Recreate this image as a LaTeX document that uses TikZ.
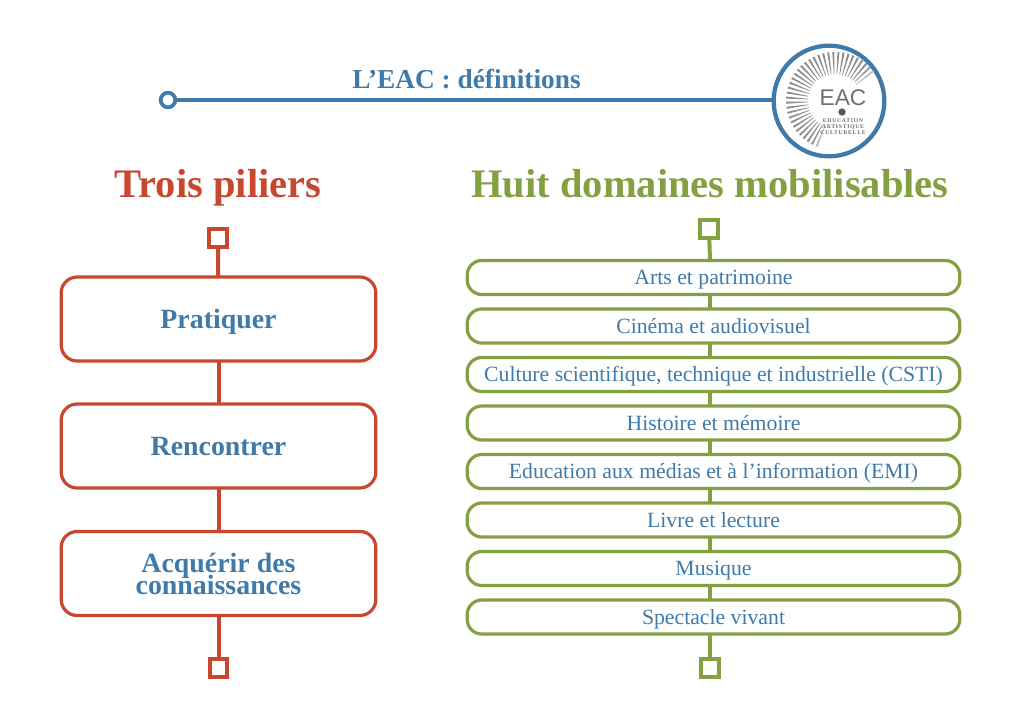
\documentclass[tikz,border=0pt]{standalone}
\usepackage{fontspec}
\usetikzlibrary{calc}
\setmainfont{Liberation Serif}
\newfontfamily\logofont{Liberation Sans}
\newfontfamily\logoserif[LetterSpace=12]{Liberation Serif}
\definecolor{eacblue}{HTML}{3F7AA8}
\definecolor{eacred}{HTML}{C8482F}
\definecolor{eacgreen}{HTML}{84A043}
\definecolor{eacgrey}{HTML}{6E6E6E}
\lineskiplimit=-50pt
\tikzset{
  pillar/.style={draw=eacred,line width=2.4pt,rounded corners=12pt,minimum width=236pt,minimum height=63pt,outer sep=0pt,inner sep=0pt,align=center,text=eacblue,font=\bfseries\fontsize{20.9}{16.5}\selectfont},
  oneline/.style={text height=14pt,text depth=0.5pt},
  dombox/.style={draw=eacgreen,line width=2.4pt,rounded corners=11pt,minimum width=369.5pt,minimum height=25.5pt,outer sep=0pt,inner sep=0pt,text=eacblue,text height=12pt,text depth=0.8pt,font=\fontsize{16.3}{18}\selectfont},
  redsq/.style={draw=eacred,line width=3pt,minimum size=13pt,inner sep=0pt,outer sep=0pt},
  greensq/.style={draw=eacgreen,line width=3pt,minimum size=13pt,inner sep=0pt,outer sep=0pt},
  redlink/.style={draw=eacred,line width=3pt},
  greenlink/.style={draw=eacgreen,line width=3pt},
  bluelink/.style={draw=eacblue,line width=3pt},
  heading/.style={font=\bfseries\fontsize{30.4}{32}\selectfont,inner sep=0pt,anchor=base},
  logotext/.style={font=\logoserif\bfseries\fontsize{4.3}{5}\selectfont,text=eacgrey,inner sep=0pt}
}
\begin{document}
\begin{tikzpicture}[x=0.75pt,y=-0.75pt]
\useasboundingbox (0,0) rectangle (1024,724);
% header
\node[circle,draw=eacblue,line width=2.8pt,minimum size=11pt,inner sep=0pt,outer sep=0pt] (start) at (168,100) {};
\node[circle,draw=eacblue,line width=3.2pt,minimum size=83pt,inner sep=0pt,outer sep=0pt] (logo) at (829,101) {};
\draw[bluelink] (start) -- (logo.west |- start);
\node[font=\bfseries\fontsize{20.5}{22}\selectfont,text=eacblue,inner sep=0pt,anchor=base] (title) at (466.5,89) {L’EAC : définitions};
% logo rays
\coordinate (rayc) at (835,101);
\foreach \a in {38,44,...,248}{
  \pgfmathsetmacro{\shade}{min(80,min(\a-32,254-\a)*4+25)}
  \fill[eacgrey!\shade!white] ($(rayc)+(-\a-1.2:49)$) -- ($(rayc)+(-\a+1.2:49)$) -- ($(rayc)+(-\a+.6:27)$) -- ($(rayc)+(-\a-.6:27)$) -- cycle;
}
\node[font=\logofont\fontsize{17}{18}\selectfont,text=eacgrey,inner sep=0pt] (eac) at (843,98) {EAC};
\node[circle,fill=eacgrey!80!black,minimum size=5.5pt,inner sep=0pt] (dot) at (842,112) {};
\node[logotext] (l1) at (843,121) {EDUCATION};
\node[logotext] (l2) at (843,127) {ARTISTIQUE};
\node[logotext] (l3) at (843,133) {CULTURELLE};
% headings
\node[heading,text=eacred] (h1) at (218,197) {Trois piliers};
\node[heading,text=eacgreen] (h2) at (710,197) {Huit domaines mobilisables};
% left
\node[redsq] (rt) at (218,238) {};
\node[pillar,oneline] (p1) at (218.5,319) {Pratiquer};
\node[pillar,oneline] (p2) at (218.5,446) {Rencontrer};
\node[pillar] (p3) at (218.5,573.5) {Acquérir des\\connaissances};
\node[redsq] (rb) at (218.5,668) {};
\draw[redlink] (rt) -- (p1);
\draw[redlink] (p1) -- (p2);
\draw[redlink] (p2) -- (p3);
\draw[redlink] (p3) -- (rb);
% right
\node[greensq] (gt) at (709,229) {};
\node[dombox] (d1) at (713.5,277.5) {Arts et patrimoine};
\node[dombox] (d2) at (713.5,326) {Cinéma et audiovisuel};
\node[dombox] (d3) at (713.5,374.5) {Culture scientifique, technique et industrielle (CSTI)};
\node[dombox] (d4) at (713.5,423) {Histoire et mémoire};
\node[dombox] (d5) at (713.5,471.5) {Education aux médias et à l’information (EMI)};
\node[dombox] (d6) at (713.5,520) {Livre et lecture};
\node[dombox] (d7) at (713.5,568.5) {Musique};
\node[dombox] (d8) at (713.5,617) {Spectacle vivant};
\node[greensq] (gb) at (710,668) {};
\coordinate (gx) at (710,0);
\draw[greenlink] (gt) -- (gx |- d1.north);
\foreach \u/\v in {d1/d2,d2/d3,d3/d4,d4/d5,d5/d6,d6/d7,d7/d8}{
  \draw[greenlink] (gx |- \u.south) -- (gx |- \v.north);
}
\draw[greenlink] (gx |- d8.south) -- (gb);
\end{tikzpicture}
\end{document}
